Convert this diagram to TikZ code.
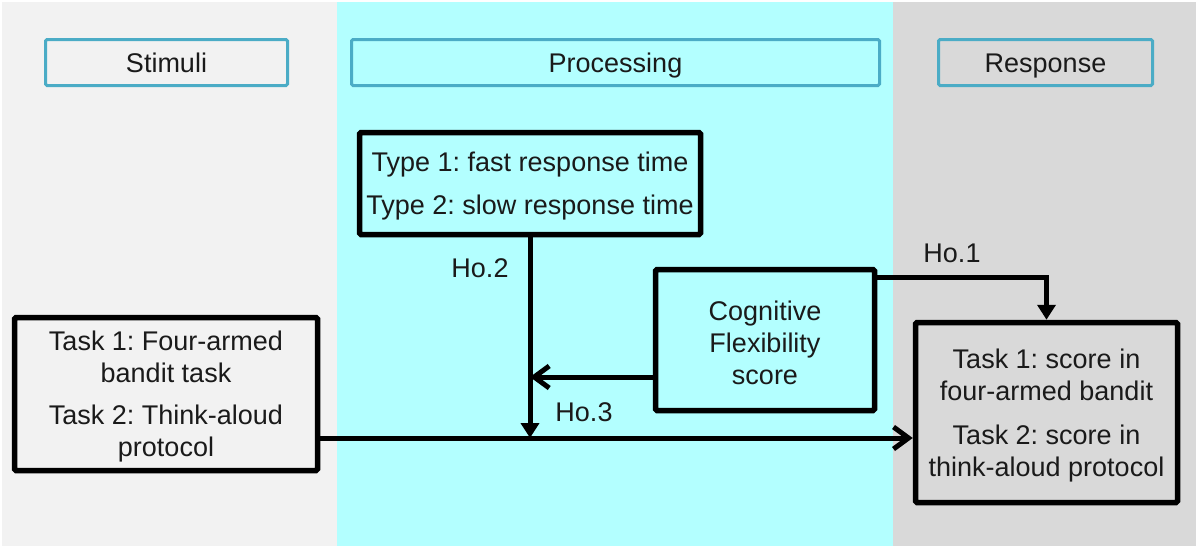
\documentclass[tikz,border=0pt]{standalone}
\usepackage{fontspec}
\setmainfont{Liberation Sans}
\usetikzlibrary{arrows.meta}
\definecolor{lpanel}{HTML}{F2F2F2}
\definecolor{cpanel}{HTML}{B3FFFF}
\definecolor{rpanel}{HTML}{D9D9D9}
\definecolor{hdr}{HTML}{4BACC6}
\definecolor{txt}{HTML}{1A1A1A}
\newcommand{\toppad}{\rule{0pt}{25pt}}
\frenchspacing
\begin{document}
\begin{tikzpicture}[x=1pt,y=-1pt,
  hdrbox/.style={draw=hdr,line width=3pt,rounded corners=1.5pt,minimum height=46pt,inner sep=0pt,text=txt,text height=20pt,text depth=0pt},
  mainbox/.style={draw=black,line width=5.5pt,rounded corners=1.5pt,inner sep=0pt,align=center,text=txt},
  conn/.style={draw=black,line width=5pt},
  lbl/.style={text=txt,inner sep=0pt},
  filledtip/.style={-{Triangle[length=15pt,width=18pt]}},
  opentip/.style={-{Straight Barb[length=15pt,width=22pt]}},
  font=\fontsize{27}{32}\selectfont]
\useasboundingbox (0,0) rectangle (1200,549);
\fill[white] (0,0) rectangle (1200,549);
\fill[lpanel] (2,2) rectangle (337,546);
\fill[cpanel] (337,2) rectangle (893,546);
\fill[rpanel] (893,2) rectangle (1196,546);

% headers
\node[hdrbox,minimum width=242pt] (hstim) at (166.5,62.5) {Stimuli};
\node[hdrbox,minimum width=528pt] (hproc) at (615.5,62.5) {Processing};
\node[hdrbox,minimum width=214pt] (hresp) at (1045.5,62.5) {Response};

% main boxes
\node[mainbox,minimum width=341pt,minimum height=102pt] (type) at (530,183.5)
  {\toppad Type 1: fast response time\\[11pt]Type 2: slow response time};
\node[mainbox,minimum width=219pt,minimum height=141pt] (cog) at (765,340)
  {\toppad Cognitive\\Flexibility\\score};
\node[mainbox,minimum width=303pt,minimum height=153pt] (stim) at (166,394)
  {\toppad Task 1: Four-armed\\bandit task\\[10pt]Task 2: Think-aloud\\protocol};
\node[mainbox,minimum width=262pt,minimum height=180pt] (resp) at (1046.5,412.5)
  {\toppad Task 1: score in\\four-armed bandit\\[12pt]Task 2: score in\\think-aloud protocol};

% helper coordinates
\coordinate (hline) at (0,438);
\coordinate (c3) at (0,377);
\coordinate (c1) at (0,277);

% connectors
\draw[conn,opentip] (stim.east |- hline) -- (resp.west |- hline);
\draw[conn,filledtip] (type.south) -- (type.south |- hline);
\draw[conn,opentip] (cog.west |- c3) -- (type.south |- c3);
\draw[conn,filledtip] (cog.east |- c1) -| (resp.north);

% labels
\node[lbl] (ho2) at (480,268) {Ho.2};
\node[lbl] (ho3) at (584,412) {Ho.3};
\node[lbl] (ho1) at (952,253) {Ho.1};
\end{tikzpicture}
\end{document}
